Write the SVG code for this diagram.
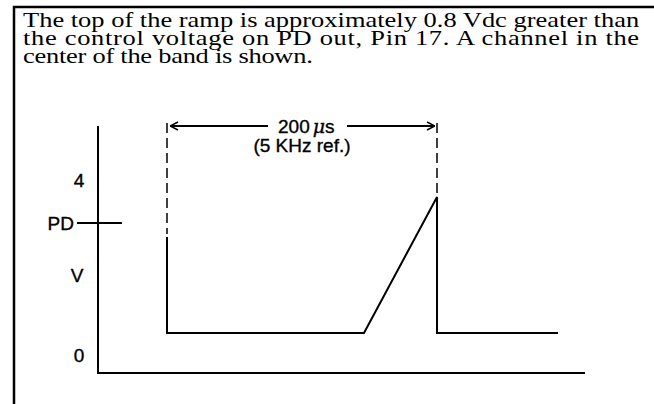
<svg xmlns="http://www.w3.org/2000/svg" width="654" height="404" viewBox="0 0 654 404">
<style>
.cap{font-family:"Liberation Serif","Times New Roman",serif;font-size:21px;fill:#000}
.lbl{font-family:"Liberation Sans",Arial,sans-serif;font-size:19px;fill:#000;stroke:#000;stroke-width:0.35}
.ln{stroke:#000;stroke-width:2;fill:none}
.dash{stroke:#000;stroke-width:1.5;fill:none;stroke-dasharray:10,5}
</style>
<defs>
<marker id="ah" viewBox="0 0 10 10" refX="10" refY="5" markerWidth="10" markerHeight="10" markerUnits="userSpaceOnUse" orient="auto-start-reverse">
<path d="M2,1 L10,5 L2,9" fill="none" stroke="#000" stroke-width="1.5"/>
</marker>
</defs>
<rect x="14" y="7" width="700" height="450" fill="#fff" stroke="#000" stroke-width="2.5"/>
<g id="caption" transform="translate(23,0) scale(1.26,1)">
<text class="cap" x="0" y="27" textLength="489" lengthAdjust="spacing">The top of the ramp is approximately 0.8 Vdc greater than</text>
<text class="cap" x="0" y="45" textLength="489" lengthAdjust="spacing">the control voltage on PD out, Pin 17. A channel in the</text>
<text class="cap" x="0" y="63" textLength="230" lengthAdjust="spacing">center of the band is shown.</text>
</g>
<g id="axes">
<path class="ln" d="M98,126 V373 H585"/>
<path class="ln" d="M77,223 H122"/>
<text class="lbl" x="79" y="187" text-anchor="middle">4</text>
<text class="lbl" x="74" y="230" text-anchor="end">PD</text>
<text class="lbl" x="77" y="282" text-anchor="middle">V</text>
<text class="lbl" x="79" y="362" text-anchor="middle">0</text>
</g>
<g id="waveform">
<path class="ln" d="M167,237 V333 H364 L437,197 V333 H558"/>
</g>
<g id="connectors">
<path class="dash" d="M167,123 V234"/>
<path class="dash" d="M437,123 V196"/>
<path class="ln" stroke-width="1.5" d="M268,126 H170" marker-end="url(#ah)"/>
<path class="ln" stroke-width="1.5" d="M347,126 H435" marker-end="url(#ah)"/>
</g>
<g id="period-label">
<text class="lbl" x="278" y="133">200<tspan font-family="'DejaVu Serif',serif" font-style="italic" dx="3">μ</tspan>s</text>
<text class="lbl" x="302" y="152" text-anchor="middle">(5 KHz ref.)</text>
</g>
</svg>
